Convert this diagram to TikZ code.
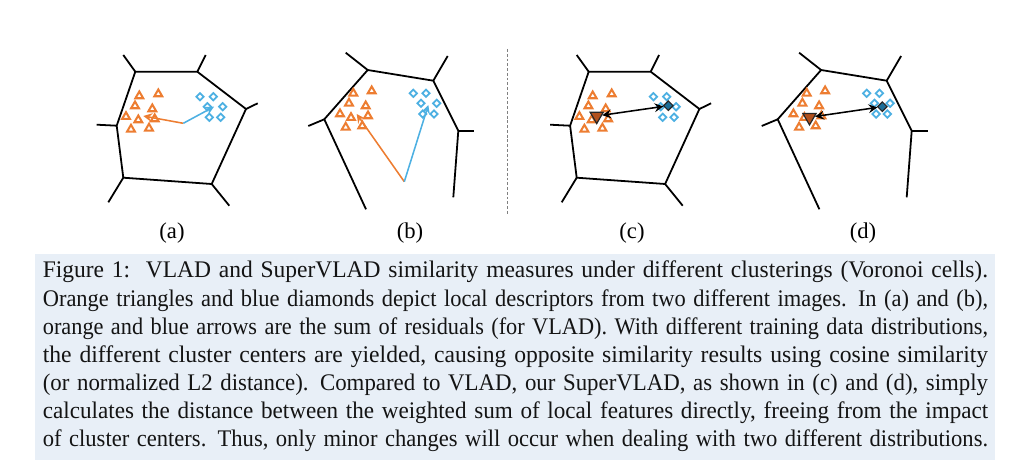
\documentclass[tikz,border=0pt]{standalone}
\usepackage{graphicx}
\usepackage{fontspec}
\setmainfont{Liberation Serif}
\usetikzlibrary{shapes.geometric}
\definecolor{dotorange}{RGB}{237,125,49}
\definecolor{dotblue}{RGB}{77,176,226}
\definecolor{meanorange}{RGB}{178,80,28}
\definecolor{meanblue}{RGB}{28,110,152}
\definecolor{capbg}{RGB}{232,239,247}
\definecolor{captext}{RGB}{20,20,20}
\newcommand{\capline}[1]{\hbox to\hsize{\resizebox{\hsize}{\height}{\strut #1}}}

\begin{document}
\begin{tikzpicture}[x=0.42pt,y=-0.42pt,>=stealth,
  cell/.style={line width=0.75pt},
  tri/.style={regular polygon,regular polygon sides=3,draw=dotorange,line width=0.85pt,minimum size=3.8pt,inner sep=0pt},
  dia/.style={diamond,draw=dotblue,line width=0.75pt,minimum size=3.4pt,inner sep=0pt},
  meantri/.style={regular polygon,regular polygon sides=3,shape border rotate=180,draw=black!85,fill=meanorange,line width=0.5pt,minimum size=6.4pt,inner sep=0pt},
  meandia/.style={diamond,draw=black!85,fill=meanblue,line width=0.5pt,minimum size=4.2pt,inner sep=0pt},
  resid/.style={->,line width=0.65pt},
  sublabel/.style={font=\fontsize{9.5pt}{10pt}\selectfont}]
  \useasboundingbox (0,0) rectangle (1024,464);

  % cells of (a) and (c)
  \foreach \sx/\pn in {0/a,453.4/c}{
    \begin{scope}[shift={(\sx,0)}]
      \coordinate (\pn1) at (135.3,71.7);
      \coordinate (\pn2) at (197.3,71.7);
      \coordinate (\pn3) at (246,109);
      \coordinate (\pn4) at (211.7,184);
      \coordinate (\pn5) at (123.3,177.7);
      \coordinate (\pn6) at (116.7,125.7);
      \draw[cell] (\pn1) -- (\pn2) -- (\pn3) -- (\pn4) -- (\pn5) -- (\pn6) -- cycle;
      \draw[cell] (\pn1) -- (123.3,55);
      \draw[cell] (\pn2) -- (205.7,55);
      \draw[cell] (\pn3) -- (257.7,103.3);
      \draw[cell] (\pn4) -- (229.3,205.7);
      \draw[cell] (\pn5) -- (108.3,202.3);
      \draw[cell] (\pn6) -- (96.7,124.7);
      \foreach \x/\y [count=\i] in {139.3/96,158.3/94,135/106,152.3/109,126/116.7,138.3/120,154.7/119,131/129.3,149/128.3}
        \node[tri] (\pn t\i) at (\x,\y) {};
      \foreach \x/\y [count=\i] in {200/96.7,213.3/96.7,207.3/106.7,222.7/106.7,209.3/117.3,220.7/117.3}
        \node[dia] (\pn d\i) at (\x,\y) {};
    \end{scope}
  }

  % cells of (b) and (d)
  \foreach \sx/\pn in {0/b,453.4/d}{
    \begin{scope}[shift={(\sx,0)}]
      \coordinate (\pn1) at (324.3,119.3);
      \coordinate (\pn2) at (367.7,70);
      \coordinate (\pn3) at (433.3,80.7);
      \coordinate (\pn4) at (458.3,130.7);
      \draw[cell] (366,209.3) -- (\pn1) -- (\pn2) -- (\pn3) -- (\pn4) -- (453.3,197.3);
      \draw[cell] (\pn1) -- (308.3,126);
      \draw[cell] (\pn2) -- (345.7,52.7);
      \draw[cell] (\pn3) -- (447.7,56);
      \draw[cell] (\pn4) -- (474.3,130.7);
      \foreach \x/\y [count=\i] in {353.3/93.3,371.7/91,349/103.3,365.7/106,340/114,351/117.7,368/116,345.7/127.3,362.3/126}
        \node[tri] (\pn t\i) at (\x,\y) {};
      \foreach \x/\y [count=\i] in {413.3/93.3,426/93.3,421/103.3,436.7/103.3,422.7/114,434/114}
        \node[dia] (\pn d\i) at (\x,\y) {};
    \end{scope}
  }

  % VLAD residual sums
  \coordinate (ca) at (183.3,123.3);
  \coordinate (ta) at (143.3,116);
  \coordinate (da) at (214,106.7);
  \draw[resid,dotorange] (ca) -- (ta);
  \draw[resid,dotblue] (ca) -- (da);
  \coordinate (cb) at (404.3,181.7);
  \coordinate (tb) at (356.7,114);
  \coordinate (db) at (428.3,105);
  \draw[resid,dotorange] (cb) -- (tb);
  \draw[resid,dotblue] (cb) -- (db);

  % SuperVLAD
  \node[meantri] (mtc) at (596.7,116) {};
  \node[meandia] (mdc) at (668.3,105.7) {};
  \draw[<->,line width=0.65pt] (mtc) -- (mdc);
  \node[meantri] (mtd) at (809.5,117.3) {};
  \node[meandia] (mdd) at (882.3,106.7) {};
  \draw[<->,line width=0.65pt] (mtd) -- (mdd);

  \coordinate (septop) at (507.7,49);
  \coordinate (sepbot) at (507.7,215);
  \draw[gray,line width=0.4pt,dash pattern=on 1.2pt off 0.8pt] (septop) -- (sepbot);

  \node[sublabel] (la) at (172,233) {(a)};
  \node[sublabel] (lb) at (410,233) {(b)};
  \node[sublabel] (lc) at (632,233) {(c)};
  \node[sublabel] (ld) at (863,233) {(d)};

  \node[anchor=north west,fill=capbg,text=captext,text width=397pt,inner xsep=3.1pt,inner ysep=2.3pt,
        font=\fontsize{10pt}{10.8pt}\selectfont] (cap) at (35,254) {%
    \capline{Figure 1:\ \ VLAD and SuperVLAD similarity measures under different clusterings (Voronoi cells).}
    \capline{Orange triangles and blue diamonds depict local descriptors from two different images. In (a) and (b),}
    \capline{orange and blue arrows are the sum of residuals (for VLAD). With different training data distributions,}
    \capline{the different cluster centers are yielded, causing opposite similarity results using cosine similarity}
    \capline{(or normalized L2 distance). Compared to VLAD, our SuperVLAD, as shown in (c) and (d), simply}
    \capline{calculates the distance between the weighted sum of local features directly, freeing from the impact}
    \capline{of cluster centers. Thus, only minor changes will occur when dealing with two different distributions.}};
\end{tikzpicture}
\end{document}
